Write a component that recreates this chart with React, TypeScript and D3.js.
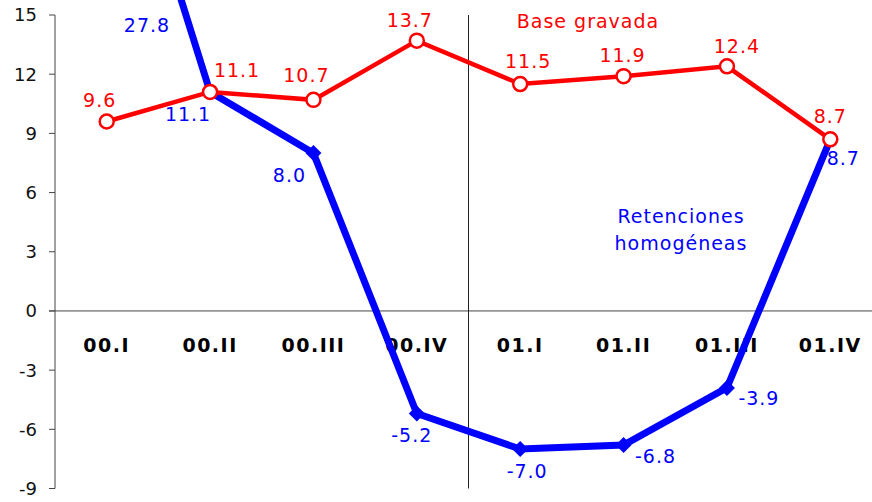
import React from "react";
import * as d3 from "d3";

const categories = ["00.I", "00.II", "00.III", "00.IV", "01.I", "01.II", "01.III", "01.IV"];
const baseGravada = [9.6, 11.1, 10.7, 13.7, 11.5, 11.9, 12.4, 8.7];
const retenciones = [27.8, 11.1, 8.0, -5.2, -7.0, -6.8, -3.9, 8.7];
const yTicks = [-9, -6, -3, 0, 3, 6, 9, 12, 15];

const W = 872;
const H = 502;
const FONT = "'DejaVu Sans', Verdana, sans-serif";
const RED = "#FF0000";
const BLUE = "#0000FF";

// label offsets (dx, dy) relative to point
const redOff: [number, number][] = [
  [-7, -15], [27, -15], [-7, -18], [-7, -14], [8, -16], [-1, -14], [10, -13], [0, -16],
];
const blueOff: [number, number][] = [
  [0, 0], [-22, 29], [-24, 29], [-5, 28], [7, 29], [32, 18], [32, 17], [13, 26],
];

const diamondType = {
  draw(ctx: any, size: number) {
    const r = Math.sqrt(size / 2);
    ctx.moveTo(0, -r);
    ctx.lineTo(r, 0);
    ctx.lineTo(0, r);
    ctx.lineTo(-r, 0);
    ctx.closePath();
  },
};

export default function App() {
  const x = d3.scaleBand<string>().domain(categories).range([55, 882]).padding(0);
  const cx = (c: string) => (x(c) as number) + x.bandwidth() / 2;
  const y = d3.scaleLinear().domain([-9, 15]).range([488.5, 15]);

  const line = d3
    .line<number>()
    .x((_, i) => cx(categories[i]))
    .y((d) => y(d));

  const dividerX = x(categories[4]) as number;
  const diamond = d3.symbol().type(diamondType as any).size(128)();

  return (
    <svg
      width={W}
      height={H}
      style={{ position: "absolute", left: 0, top: 0, background: "#fff" }}
      fontFamily={FONT}
    >
      <defs>
        <clipPath id="clip">
          <rect x={0} y={0} width={W} height={H} />
        </clipPath>
      </defs>
      {/* y axis */}
      <line x1={55} x2={55} y1={y(15)} y2={y(-9)} stroke="#444" strokeWidth={1} />
      {yTicks.map((t) => (
        <g key={t}>
          <line x1={49} x2={55} y1={y(t)} y2={y(t)} stroke="#444" strokeWidth={1} />
          <text x={37} y={y(t)} dy="0.36em" textAnchor="end" fontSize={18} fill="#111">
            {t}
          </text>
        </g>
      ))}
      {/* zero line */}
      <line x1={49} x2={W} y1={y(0)} y2={y(0)} stroke="#444" strokeWidth={1} />
      {/* divider */}
      <line x1={dividerX} x2={dividerX} y1={y(15)} y2={y(-9)} stroke="#222" strokeWidth={1} />
      {/* category labels */}
      {categories.map((c) => (
        <text key={c} x={cx(c)} y={352} textAnchor="middle" fontSize={19} fontWeight="bold" fill="#000" letterSpacing={1.5}>
          {c}
        </text>
      ))}
      {/* blue line */}
      <g clipPath="url(#clip)">
        <path d={line(retenciones) || ""} fill="none" stroke={BLUE} strokeWidth={7} strokeLinejoin="miter" />
        {retenciones.map((v, i) =>
          i === 0 ? null : (
            <path key={i} d={diamond || ""} transform={`translate(${cx(categories[i])},${y(v)})`} fill={BLUE} />
          )
        )}
      </g>
      {/* red line */}
      <path d={line(baseGravada) || ""} fill="none" stroke={RED} strokeWidth={4.5} />
      {baseGravada.map((v, i) => (
        <circle key={i} cx={cx(categories[i])} cy={y(v)} r={7} fill="#fff" stroke={RED} strokeWidth={2.5} />
      ))}
      {/* labels */}
      {baseGravada.map((v, i) => (
        <text
          key={"r" + i}
          x={cx(categories[i]) + redOff[i][0]}
          y={y(v) + redOff[i][1]}
          textAnchor="middle"
          fontSize={19}
          letterSpacing={1}
          fill={RED}
        >
          {v.toFixed(1)}
        </text>
      ))}
      {retenciones.map((v, i) => {
        const px = i === 0 ? 147 - cx(categories[0]) : blueOff[i][0];
        const py = i === 0 ? 32 : y(v) + blueOff[i][1];
        return (
          <text
            key={"b" + i}
            x={cx(categories[i]) + px}
            y={py}
            textAnchor="middle"
            fontSize={19}
            letterSpacing={1}
            fill={BLUE}
          >
            {v.toFixed(1)}
          </text>
        );
      })}
      {/* series names */}
      <text x={588} y={28} textAnchor="middle" fontSize={19} letterSpacing={1} fill={RED}>
        Base gravada
      </text>
      <text x={681} y={223} textAnchor="middle" fontSize={19} letterSpacing={1} fill={BLUE}>
        Retenciones
      </text>
      <text x={681} y={250} textAnchor="middle" fontSize={19} letterSpacing={1} fill={BLUE}>
        homogéneas
      </text>
    </svg>
  );
}
